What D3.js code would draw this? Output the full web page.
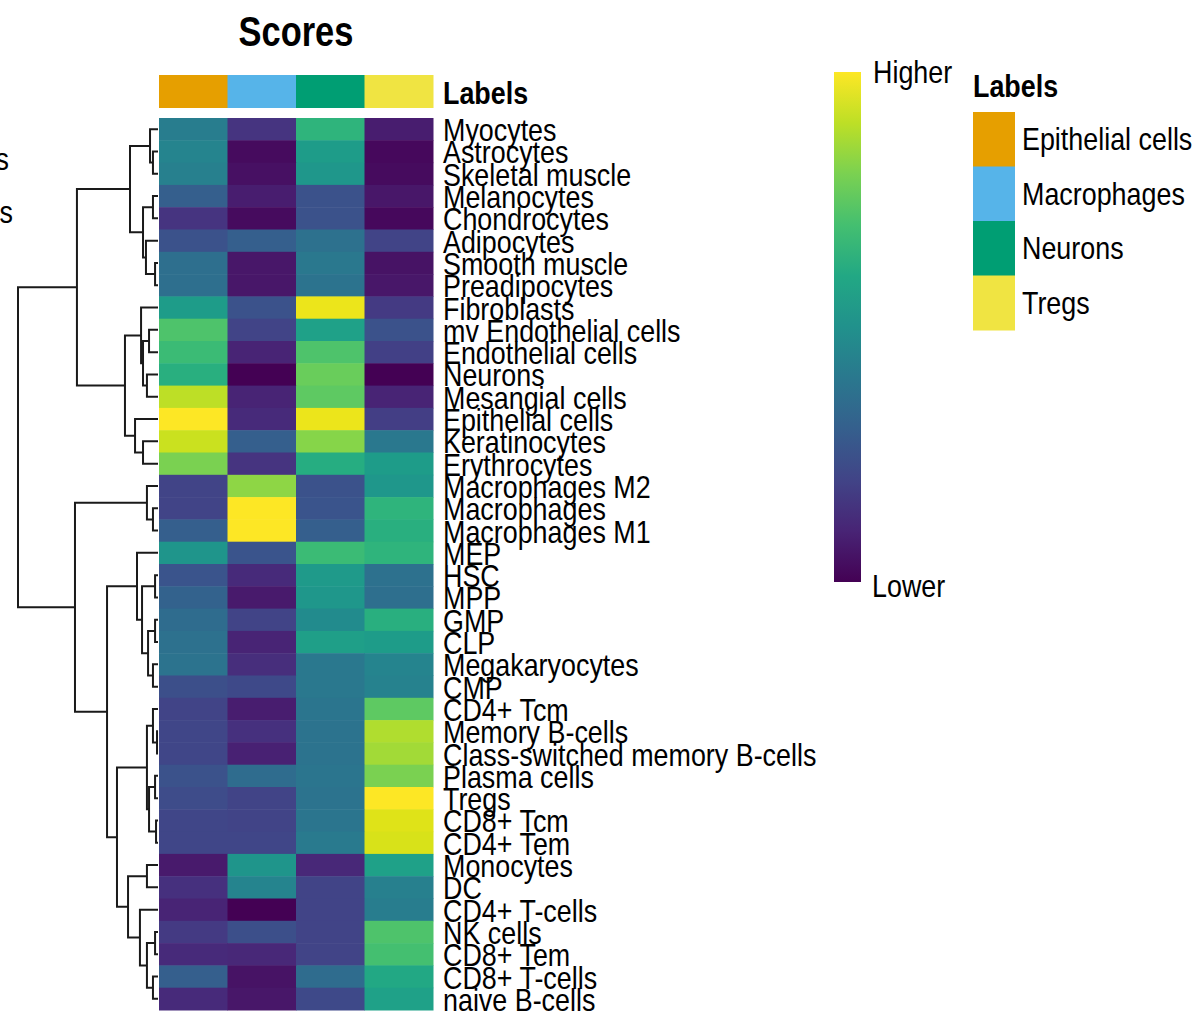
<!DOCTYPE html>
<html>
<head>
<meta charset="utf-8">
<script src="https://cdn.jsdelivr.net/npm/d3@7"></script>
<style>
  body { margin: 0; background: #fff; }
  text { font-family: "Liberation Sans", Arial, sans-serif; fill: #000; }
</style>
</head>
<body>
<div id="chart"></div>
<script>
// cell types (rows, in dendrogram order)
const rowNames = ["Myocytes", "Astrocytes", "Skeletal muscle", "Melanocytes", "Chondrocytes",
  "Adipocytes", "Smooth muscle", "Preadipocytes", "Fibroblasts", "mv Endothelial cells",
  "Endothelial cells", "Neurons", "Mesangial cells", "Epithelial cells", "Keratinocytes",
  "Erythrocytes", "Macrophages M2", "Macrophages", "Macrophages M1", "MEP",
  "HSC", "MPP", "GMP", "CLP", "Megakaryocytes",
  "CMP", "CD4+ Tcm", "Memory B-cells", "Class-switched memory B-cells", "Plasma cells",
  "Tregs", "CD8+ Tcm", "CD4+ Tem", "Monocytes", "DC",
  "CD4+ T-cells", "NK cells", "CD8+ Tem", "CD8+ T-cells", "naive B-cells"];

// cluster labels (columns) and their annotation colours
const colNames = ["Epithelial cells", "Macrophages", "Neurons", "Tregs"];
const labelColors = ["#E69F00", "#56B4E9", "#009E73", "#F0E442"];

// scaled scores, one array per column (0 = lower, 1 = higher)
const epithelialScores = [.42, .45, .43, .30, .15, .25, .36, .36, .55, .72, .68, .63, .90, 1.0, .92, .80, .20, .20, .30, .52,
  .26, .31, .35, .37, .38, .24, .20, .21, .21, .25, .23, .21, .21, .07, .14, .10, .17, .12, .30, .12];
const macrophageScores = [.15, .03, .04, .08, .03, .30, .06, .06, .25, .20, .10, .00, .10, .12, .30, .15, .83, 1.0, 1.0, .26,
  .12, .07, .20, .10, .13, .22, .08, .14, .09, .35, .20, .20, .21, .52, .45, .00, .24, .11, .05, .06];
const neuronScores = [.65, .55, .53, .25, .25, .37, .40, .38, .97, .57, .72, .77, .75, .97, .82, .62, .25, .26, .30, .68,
  .54, .53, .48, .56, .40, .40, .39, .38, .38, .39, .38, .39, .41, .11, .20, .20, .20, .20, .35, .22];
const tregScores = [.08, .02, .03, .06, .02, .20, .05, .06, .17, .25, .19, .00, .10, .18, .40, .55, .53, .65, .63, .65,
  .37, .36, .63, .55, .45, .44, .75, .88, .86, .80, 1.0, .95, .94, .57, .43, .42, .72, .70, .60, .57];

// row dendrogram, hclust style: negative = leaf (row index + 1), positive = earlier merge
const merges = [[-2, -3], [-1, 1], [-4, -5], [-7, -8], [-6, 4], [3, 5], [2, 6],
  [-10, -11], [-12, -13], [8, 9], [-9, 10], [-15, -16], [-14, 12], [11, 13], [7, 14],
  [-18, -19], [-17, 16], [-21, -22], [-23, -24], [-25, -26], [19, 20], [18, 21], [-20, 22],
  [-28, -29], [-27, 24], [-30, -31], [-32, -33], [26, 27], [25, 28],
  [-34, -35], [-37, -38], [-39, -40], [31, 32], [-36, 33], [30, 34], [29, 35], [23, 36],
  [17, 37], [15, 38]];
const mergeHeights = [0.36, 0.57, 0.36, 0.21, 0.86, 1.07, 2.0,
  0.64, 0.79, 1.07, 1.21, 1.07, 1.64, 2.36, 5.79,
  0.36, 0.79, 0.21, 0.21, 0.36, 0.71, 1.14, 1.5,
  0.07, 0.36, 0.21, 0.14, 0.64, 0.79,
  0.79, 0.21, 0.36, 0.79, 1.29, 2.14, 2.93, 3.64,
  5.93, 10];

const scoreCols = [epithelialScores, macrophageScores, neuronScores, tregScores];

const W = 1202, H = 1014;
const svg = d3.select("#chart").append("svg")
  .attr("width", W).attr("height", H)
  .style("display", "block");

svg.append("rect").attr("width", W).attr("height", H).attr("fill", "#fff");

// scales
const x = d3.scaleBand().domain(colNames).range([159, 433]);
const y = d3.scaleBand().domain(rowNames).range([118, 1010]);
const color = d3.scaleSequential(d3.interpolateViridis).domain([0, 1]);
const dx = d3.scaleLinear().domain([0, 10]).range([158, 18]);

// text is slightly narrow in the original
const sx = 0.84;

// title
svg.append("text")
  .attr("transform", `translate(${(x.range()[0] + x.range()[1]) / 2},46) scale(0.82,1)`)
  .attr("text-anchor", "middle")
  .style("font-size", "42px").style("font-weight", "bold")
  .text("Scores");

// column annotation bar
svg.append("g").selectAll("rect")
  .data(colNames)
  .join("rect")
  .attr("x", d => x(d))
  .attr("y", 75)
  .attr("width", x.bandwidth() + 0.5)
  .attr("height", 33)
  .attr("fill", (d, i) => labelColors[i]);

svg.append("text")
  .attr("transform", `translate(443,104) scale(${sx},1)`)
  .style("font-size", "32px").style("font-weight", "bold")
  .text("Labels");

// heatmap cells
const cells = [];
rowNames.forEach((r, i) => colNames.forEach((c, j) => cells.push({ r, c, v: scoreCols[j][i] })));

svg.append("g").selectAll("rect")
  .data(cells)
  .join("rect")
  .attr("x", d => x(d.c))
  .attr("y", d => y(d.r))
  .attr("width", x.bandwidth() + 0.5)
  .attr("height", y.bandwidth() + 0.5)
  .attr("fill", d => color(d.v));

// row labels
svg.append("g").selectAll("text")
  .data(rowNames)
  .join("text")
  .attr("transform", d => `translate(443,${y(d) + y.bandwidth() / 2 + 12}) scale(${sx},1)`)
  .style("font-size", "32px")
  .text(d => d);

// dendrogram
const nodeX = [], nodeY = [];
function pos(id) {
  if (id < 0) return { x: dx(0), y: y(rowNames[-id - 1]) + y.bandwidth() / 2 };
  return { x: nodeX[id - 1], y: nodeY[id - 1] };
}
const dend = svg.append("g")
  .attr("fill", "none")
  .attr("stroke", "#1a1a1a")
  .attr("stroke-width", 2);
merges.forEach(([a, b], i) => {
  const pa = pos(a), pb = pos(b);
  const xn = dx(mergeHeights[i]);
  nodeX[i] = xn;
  nodeY[i] = (pa.y + pb.y) / 2;
  dend.append("path")
    .attr("d", `M${pa.x},${pa.y}H${xn}V${pb.y}H${pb.x}`);
});

// colour bar
const grad = svg.append("defs").append("linearGradient")
  .attr("id", "viridis")
  .attr("x1", 0).attr("y1", 1).attr("x2", 0).attr("y2", 0);
d3.range(0, 1.01, 0.1).forEach(t => {
  grad.append("stop").attr("offset", t).attr("stop-color", color(t));
});
svg.append("rect")
  .attr("x", 834).attr("y", 72)
  .attr("width", 27).attr("height", 510)
  .attr("fill", "url(#viridis)");
svg.append("text")
  .attr("transform", `translate(873,83) scale(${sx},1)`)
  .style("font-size", "32px")
  .text("Higher");
svg.append("text")
  .attr("transform", `translate(872,597) scale(${sx},1)`)
  .style("font-size", "32px")
  .text("Lower");

// label legend
svg.append("text")
  .attr("transform", `translate(973,97) scale(${sx},1)`)
  .style("font-size", "32px").style("font-weight", "bold")
  .text("Labels");
const leg = svg.append("g").selectAll("g")
  .data(colNames)
  .join("g")
  .attr("transform", (d, i) => `translate(973,${112 + i * 54.5})`);
leg.append("rect")
  .attr("width", 42)
  .attr("height", 55)
  .attr("fill", (d, i) => labelColors[i]);
leg.append("text")
  .attr("transform", `translate(49,38) scale(${sx},1)`)
  .style("font-size", "32px")
  .text(d => d);

// cut-off remains of a legend at the left edge
svg.append("text")
  .attr("transform", `translate(9,170) scale(${sx},1)`)
  .attr("text-anchor", "end")
  .style("font-size", "32px")
  .text("s");
svg.append("text")
  .attr("transform", `translate(13,223) scale(${sx},1)`)
  .attr("text-anchor", "end")
  .style("font-size", "32px")
  .text("es");
</script>
</body>
</html>
